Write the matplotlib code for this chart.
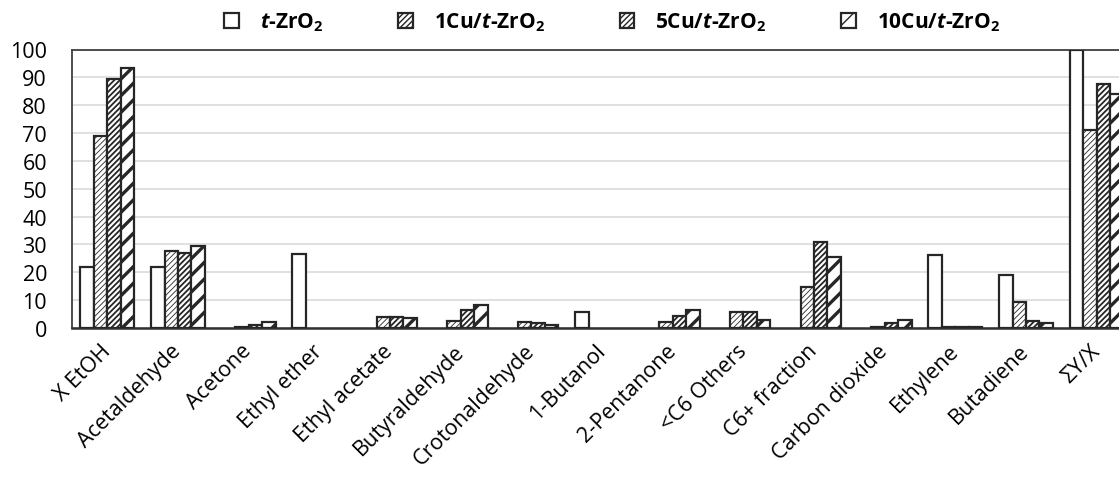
"""
Product distribution bar chart for t-ZrO2 and Cu/t-ZrO2 catalysts.
"""

import numpy as np
import matplotlib
matplotlib.use('Agg')
import matplotlib.pyplot as plt

categories = ['X EtOH', 'Acetaldehyde', 'Acetone', 'Ethyl ether', 'Ethyl acetate',
              'Butyraldehyde', 'Crotonaldehyde', '1-Butanol', '2-Pentanone',
              '<C6 Others', 'C6+ fraction', 'Carbon dioxide', 'Ethylene',
              'Butadiene', 'ΣY/X']

zro2    = [22.0, 22.0, 0.0, 26.5, 0.0, 0.0, 0.0, 5.9, 0.0, 0.0, 0.0, 0.0, 26.3, 19.2, 100.0]
cu1     = [69.0, 27.5, 0.3, 0.0, 4.0, 2.5, 2.0, 0.0, 2.3, 5.8, 14.9, 0.5, 0.5, 9.5, 71.0]
cu5     = [89.5, 27.0, 1.1, 0.0, 4.0, 6.5, 1.8, 0.0, 4.4, 5.8, 30.8, 1.9, 0.2, 2.6, 87.6]
cu10    = [93.5, 29.5, 2.0, 0.0, 3.5, 8.4, 0.9, 0.0, 6.5, 2.9, 25.4, 2.9, 0.2, 1.7, 84.2]

labels = [r'$\mathbfit{t}$-ZrO$_\mathbf{2}$',
          r'1Cu/$\mathbfit{t}$-ZrO$_\mathbf{2}$',
          r'5Cu/$\mathbfit{t}$-ZrO$_\mathbf{2}$',
          r'10Cu/$\mathbfit{t}$-ZrO$_\mathbf{2}$']

EDGE = '#262626'
BAR_W = 0.19

plt.rcParams['font.family'] = ['Open Sans', 'DejaVu Sans']
plt.rcParams['mathtext.fontset'] = 'custom'
plt.rcParams['mathtext.rm'] = 'Open Sans'
plt.rcParams['mathtext.bf'] = 'Open Sans:bold'
plt.rcParams['mathtext.bfit'] = 'Open Sans:bold:italic'

fig = plt.figure(figsize=(11.19, 4.81), dpi=100)
ax = fig.add_axes([72 / 1119, 152 / 481, 1060 / 1119, 278.5 / 481])

x = np.arange(len(categories))
series = [zro2, cu1, cu5, cu10]
hatches = ['', '//////', '//////', '//']
hatch_lw = [1.0, 0.6, 1.3, 2.4]

for i, (vals, lab, h, hlw) in enumerate(zip(series, labels, hatches, hatch_lw)):
    # zero values are not drawn at all (as in the original spreadsheet chart)
    vals = np.array(vals, dtype=float)
    vals[vals == 0] = np.nan
    with plt.rc_context({'hatch.linewidth': hlw, 'hatch.color': EDGE}):
        bars = ax.bar(x + (i - 1.5) * BAR_W, vals, BAR_W, color='white',
                      edgecolor=EDGE, linewidth=1.6, hatch=h, label=lab, zorder=3)
        for b in bars:
            if hasattr(b, 'set_hatch_linewidth'):
                b.set_hatch_linewidth(hlw)

ax.set_xlim(-0.5, len(categories) - 0.5)
ax.set_ylim(0, 100)
ax.set_yticks(np.arange(0, 101, 10))
ax.yaxis.grid(True, color='#e0e0e0', linewidth=1.4, zorder=0)
ax.set_axisbelow(True)
ax.tick_params(axis='both', length=0, colors='#000000')
ax.tick_params(axis='y', labelsize=15.5, pad=18)
ax.set_xticks(x)
ax.set_xticklabels(categories, rotation=45, ha='right', va='center',
                   rotation_mode='anchor', fontsize=15.5)
ax.tick_params(axis='x', pad=14)

for side in ['top', 'left']:
    ax.spines[side].set_color('#404040')
    ax.spines[side].set_linewidth(1.3)
ax.spines['bottom'].set_color('#303030')
ax.spines['bottom'].set_linewidth(1.8)
ax.spines['right'].set_visible(False)

leg = fig.legend(loc='center', bbox_to_anchor=(612 / 1119, 1 - 23 / 481), ncol=4,
                 frameon=False, handlelength=0.7, handleheight=0.7, handletextpad=1.0,
                 columnspacing=3.6, prop={'weight': 'bold', 'size': 15})

fig.savefig('out.png', dpi=100)
